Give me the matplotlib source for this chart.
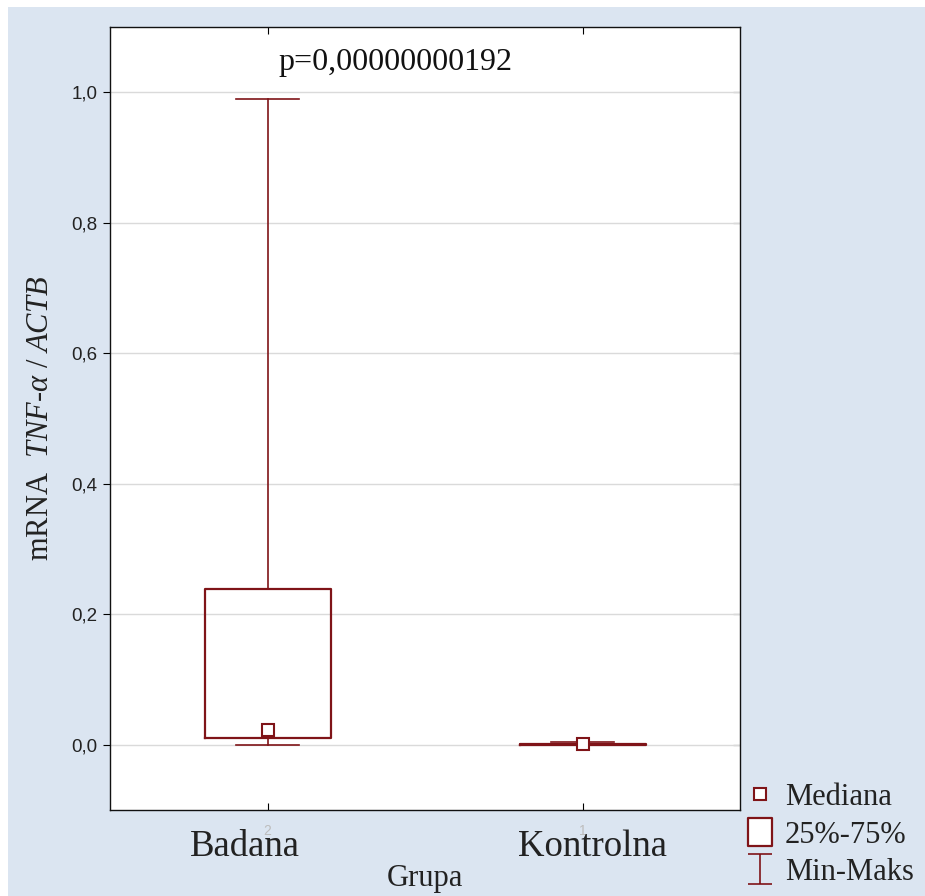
import matplotlib
matplotlib.use("Agg")
import matplotlib.pyplot as plt
from matplotlib.patches import Rectangle
from matplotlib.lines import Line2D
from matplotlib.path import Path
from matplotlib.transforms import ScaledTranslation

plt.rcParams['mathtext.fontset'] = 'custom'
plt.rcParams['mathtext.rm'] = 'Liberation Serif'
plt.rcParams['mathtext.it'] = 'Liberation Serif:italic'

# ---- data ----
groups = ["Badana", "Kontrolna"]
group_codes = ["2", "1"]
mins = [0.0, 0.0]
q1s = [0.01, 0.0003]
medians = [0.022, 0.001]
q3s = [0.239, 0.0015]
maxs = [0.99, 0.004]
yticks = [0.0, 0.2, 0.4, 0.6, 0.8, 1.0]
ytick_labels = ["0,0", "0,2", "0,4", "0,6", "0,8", "1,0"]
p_text = "p=0,00000000192"
legend_labels = ["Mediana", "25%-75%", "Min-Maks"]

col = '#7f1418'
bg = '#dbe5f1'
serif = 'Liberation Serif'
txt = '#222222'

fig = plt.figure(figsize=(9.25, 8.96), dpi=100, facecolor='white')
fig.add_artist(Rectangle((8/925, 0), 1, 1 - 7/896, transform=fig.transFigure,
                         facecolor=bg, edgecolor='none', zorder=-10))
ax = fig.add_axes([110/925, 1 - 810/896, 630/925, 783/896])
ax.set_facecolor('white')

stats = []
for g, lo, a, m, b, hi in zip(groups, mins, q1s, medians, q3s, maxs):
    stats.append(dict(label=g, whislo=lo, q1=a, med=m, q3=b, whishi=hi))
pos = list(range(len(groups)))
ax.bxp(stats, positions=pos, widths=0.4, capwidths=0.2, showfliers=False,
       boxprops=dict(color=col, linewidth=1.6),
       whiskerprops=dict(color=col, linewidth=1.2),
       capprops=dict(color=col, linewidth=1.2),
       medianprops=dict(linewidth=0))
ax.plot(pos, medians, linestyle='none', marker='s', markersize=8.5,
        markerfacecolor='white', markeredgecolor=col, markeredgewidth=1.5, zorder=5)

ax.set_xlim(-0.5, 1.5)
ax.set_ylim(-0.1, 1.1)
ax.set_yticks(yticks)
ax.set_yticklabels(ytick_labels, fontsize=13.5, family='Liberation Sans', color=txt)
ax.set_xticks(pos)
ax.set_xticklabels(groups, fontsize=26.5, family=serif, color=txt)
ax.tick_params(axis='x', direction='in', length=5, pad=14, top=True)
ax.tick_params(axis='y', direction='out', length=5, pad=4)
# offset the group labels like the reference
for lab, dx in zip(ax.get_xticklabels(), [-23, 10]):
    lab.set_transform(lab.get_transform() + ScaledTranslation(dx/100, 0, fig.dpi_scale_trans))
# inward ticks on the right spine
sec = ax.secondary_yaxis('right')
sec.set_yticks(yticks)
sec.tick_params(direction='in', length=5, labelright=False)
sec.spines['right'].set_visible(False)

ax.yaxis.grid(True, color='#dadada', linewidth=1.0)
ax.set_axisbelow(True)
for s in ax.spines.values():
    s.set_color('#111111')
    s.set_linewidth(1.0)

# small gray codes under ticks
for p_, c in zip(pos, group_codes):
    ax.text(p_, -0.018, c, transform=ax.get_xaxis_transform(), ha='center', va='top',
            fontsize=10, color='#bdbdbd', family='Liberation Sans', zorder=0)

ax.set_xlabel("Grupa", fontsize=22, family=serif, color=txt, labelpad=0)
ax.set_ylabel(r"mRNA  $TNF$-$\alpha$ / $ACTB$", fontsize=22, family=serif,
              color=txt, labelpad=12)

ax.text(0.405, 1.046, p_text, fontsize=23, family=serif, ha='center', va='center',
        color='#111111')

# legend
rect_path = Path([(-0.42, -0.5), (0.42, -0.5), (0.42, 0.5), (-0.42, 0.5), (-0.42, -0.5)],
                 [Path.MOVETO, Path.LINETO, Path.LINETO, Path.LINETO, Path.CLOSEPOLY])
cap_path = Path([(-0.83, -1), (0.83, -1), (0, -1), (0, 1), (-0.83, 1), (0.83, 1)],
                [Path.MOVETO, Path.LINETO, Path.MOVETO, Path.LINETO, Path.MOVETO, Path.LINETO])
h_med = Line2D([], [], linestyle='none', marker='s', markersize=9,
               markerfacecolor='white', markeredgecolor=col, markeredgewidth=1.5)
h_box = Line2D([], [], linestyle='none', marker=rect_path, markersize=20,
               markerfacecolor='white', markeredgecolor=col, markeredgewidth=1.6)
h_rng = Line2D([], [], linestyle='none', marker=cap_path, markersize=21,
               markerfacecolor='none', markeredgecolor=col, markeredgewidth=1.2)
leg = fig.legend([h_med, h_box, h_rng], legend_labels,
                 loc='upper left', bbox_to_anchor=(745/925, 1 - 783/896),
                 frameon=False, prop=dict(family=serif, size=22),
                 handlelength=1.0, handletextpad=0.3, labelspacing=0.28,
                 borderpad=0.0, borderaxespad=0.0)
for t in leg.get_texts():
    t.set_color(txt)

fig.savefig("out.png", dpi=100, facecolor=fig.get_facecolor())
